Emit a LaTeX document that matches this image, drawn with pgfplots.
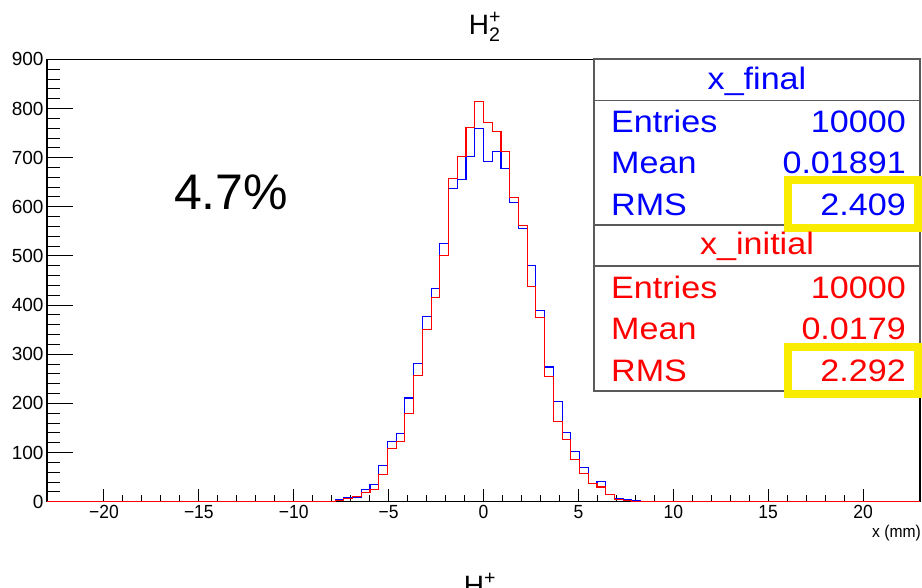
\documentclass[border=0pt]{standalone}
\usepackage{pgfplots}
\pgfplotsset{compat=1.18}
\usepackage{amsmath}
\usepackage{fontspec}
\setmainfont{Liberation Sans}
\newfontfamily\statfont[FakeStretch=1.1]{Liberation Sans}
\newfontfamily\tickfont[FakeStretch=0.92]{Liberation Sans}
\definecolor{hlyellow}{RGB}{250,236,0}
\definecolor{boxgray}{RGB}{90,90,90}

\begin{document}
\begin{tikzpicture}
\useasboundingbox (0,0) rectangle (922pt,587pt);
\begin{axis}[
  at={(47pt,85.3pt)}, anchor=south west,
  scale only axis, width=873pt, height=442.4pt,
  xmin=-23, xmax=23, ymin=0, ymax=900,
  axis line style={line width=1.2pt},
  tick pos=left, tick align=inside,
  xtick={-20,-15,...,20},
  xticklabels={−20,−15,−10,−5,0,5,10,15,20},
  ytick={0,100,...,900},
  minor x tick num=4, minor y tick num=4,
  x tick style={/pgfplots/major tick length=13pt, /pgfplots/minor tick length=6.6pt, line width=0.9pt, black},
  y tick style={/pgfplots/major tick length=26pt, /pgfplots/minor tick length=13pt, line width=0.9pt, black},
  x tick label style={font=\tickfont\fontsize{19}{21}\selectfont},
  y tick label style={font=\fontsize{19}{21}\selectfont},
  /pgf/number format/assume math mode=true,
  clip=false,
]
% x_final
\addplot[const plot, blue, line width=1.1pt] coordinates {
 (-23,0) (-7.82,4) (-7.36,8) (-6.90,9) (-6.44,25) (-5.98,35) (-5.52,73)
 (-5.06,122) (-4.60,138) (-4.14,211) (-3.68,281) (-3.22,377) (-2.76,433)
 (-2.30,526) (-1.84,637) (-1.38,656) (-0.92,703) (-0.46,759)
 (0,693) (0.46,712) (0.92,677) (1.38,608) (1.84,555) (2.30,481) (2.76,389)
 (3.22,274) (3.68,204) (4.14,141) (4.60,102) (5.06,69) (5.52,37) (5.98,42)
 (6.44,14) (6.90,6) (7.36,5) (7.82,2) (8.28,1) (8.74,0) (23,0)};
% x_initial
\addplot[const plot, red, line width=1.1pt] coordinates {
 (-23,0) (-7.82,3) (-7.36,6) (-6.90,10) (-6.44,18) (-5.98,25) (-5.52,55)
 (-5.06,109) (-4.60,122) (-4.14,180) (-3.68,256) (-3.22,350) (-2.76,416)
 (-2.30,501) (-1.84,658) (-1.38,703) (-0.92,761) (-0.46,815)
 (0,771) (0.46,754) (0.92,712) (1.38,619) (1.84,562) (2.30,437) (2.76,374)
 (3.22,255) (3.68,164) (4.14,126) (4.60,85) (5.06,58) (5.52,37) (5.98,30)
 (6.44,14) (6.90,4) (7.36,3) (7.82,1) (8.28,0) (23,0)};
\end{axis}

% titles and labels
\node[anchor=base, inner sep=0] at (485pt,552pt) {\fontsize{28}{32}\selectfont $\text{H}_{\text{2}}^{\text{+}}$};
\node[anchor=base east, inner sep=0] at (921pt,49pt) {\tickfont\fontsize{17}{19}\selectfont x (mm)};
\node[anchor=base, inner sep=0] at (231pt,377pt) {\fontsize{50}{56}\selectfont 4.7\%};
\node[anchor=base, inner sep=0] at (480pt,-9pt) {\fontsize{28}{32}\selectfont $\text{H}^{\text{+}}$};

% stat boxes
\draw[boxgray, line width=1.5pt, fill=white] (594pt,362pt) rectangle (920pt,528pt);
\draw[boxgray, line width=1.5pt] (594pt,486.3pt) -- (920pt,486.3pt);
\draw[boxgray, line width=1.5pt, fill=white] (594pt,196pt) rectangle (920pt,362pt);
\draw[boxgray, line width=1.5pt] (594pt,321pt) -- (920pt,321pt);

\draw[hlyellow, line width=8pt] (788pt,359pt) rectangle (918pt,407pt);
\draw[hlyellow, line width=8pt] (788pt,193pt) rectangle (918pt,240pt);

\begin{scope}[every node/.style={inner sep=0}, font=\statfont\fontsize{31}{35}\selectfont]
\node[blue, anchor=base] at (757pt,497.7pt) {x\_final};
\node[blue, anchor=base west] at (611pt,454.3pt) {Entries};
\node[blue, anchor=base east] at (906pt,454.3pt) {10000};
\node[blue, anchor=base west] at (611pt,413pt) {Mean};
\node[blue, anchor=base east] at (906pt,413pt) {0.01891};
\node[blue, anchor=base west] at (611pt,371.3pt) {RMS};
\node[blue, anchor=base east] at (906pt,371.3pt) {2.409};
\node[red, anchor=base] at (757pt,332pt) {x\_initial};
\node[red, anchor=base west] at (611pt,288.7pt) {Entries};
\node[red, anchor=base east] at (906pt,288.7pt) {10000};
\node[red, anchor=base west] at (611pt,247pt) {Mean};
\node[red, anchor=base east] at (906pt,247pt) {0.0179};
\node[red, anchor=base west] at (611pt,205.3pt) {RMS};
\node[red, anchor=base east] at (906pt,205.3pt) {2.292};
\end{scope}
\end{tikzpicture}
\end{document}
